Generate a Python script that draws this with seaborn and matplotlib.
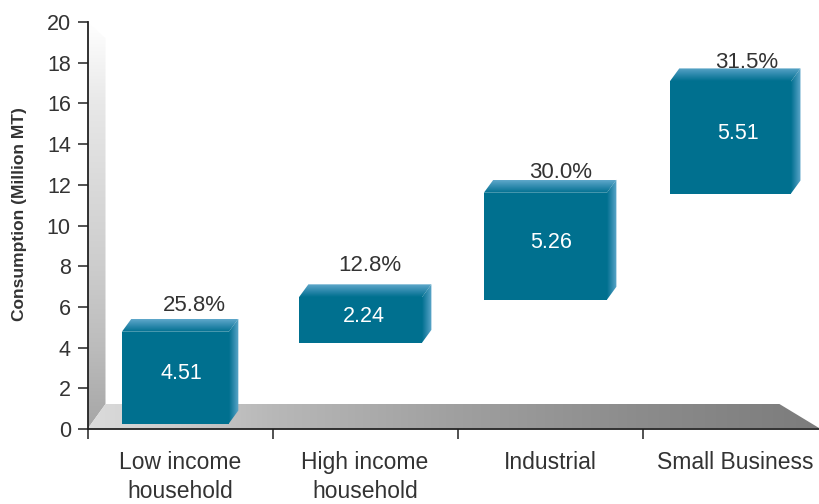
import numpy as np
import pandas as pd
import matplotlib
matplotlib.use("Agg")
import matplotlib.pyplot as plt
from matplotlib.colors import LinearSegmentedColormap
from matplotlib.patches import Polygon
import seaborn as sns

categories = ["Low income\nhousehold", "High income\nhousehold", "Industrial", "Small Business"]
volumes = [4.51, 2.24, 5.26, 5.51]
shares = ["25.8%", "12.8%", "30.0%", "31.5%"]
bar_starts = [0.27, 4.23, 6.35, 11.57]
y_ticks = list(range(0, 21, 2))

# Layout in data units: one category is 185 px wide, one y unit 20.35 px.
X_UNIT, Y_UNIT = 185.0, 20.35
X_MIN, X_MAX = -0.5, -0.5 + 731.5 / X_UNIT
BAR_SHIFT = -0.025
BAR_WIDTHS = [0.578, 0.665, 0.665, 0.655]
BAR_DX, BAR_DY = 9.5 / X_UNIT, 13 / Y_UNIT
WALL_DX, WALL_DY = 18 / X_UNIT, 25 / Y_UNIT
SHARE_LIFT = [0.65, 0.95, 0.35, 0.3]
SHARE_SHIFT = [0.10, 0.05, 0.08, 0.09]
VALUE_SHIFT = [0.035, 0.02, 0.03, 0.04]

FRONT = "#00708F"
LIGHT = "#5FA8CB"
TEXT = "#333333"

sns.set_theme(style="white")
plt.rcParams["font.family"] = ["Liberation Sans", "DejaVu Sans"]

fig = plt.figure(figsize=(8.19, 5.04), dpi=100, facecolor="white")
ax = fig.add_axes([87.5 / 819, 75 / 504, 731.5 / 819, 407 / 504])


def shaded_polygon(points, colours, horizontal, zorder):
    """Fill a polygon with a linear colour ramp along one axis."""
    pts = np.asarray(points)
    ramp = np.linspace(0, 1, 256)
    ramp = ramp[None, :] if horizontal else ramp[:, None]
    cmap = LinearSegmentedColormap.from_list("ramp", colours)
    extent = (pts[:, 0].min(), pts[:, 0].max(), pts[:, 1].min(), pts[:, 1].max())
    image = ax.imshow(ramp, extent=extent, origin="lower", cmap=cmap,
                      aspect="auto", zorder=zorder, interpolation="bilinear")
    clip = Polygon(pts, closed=True, transform=ax.transData)
    image.set_clip_path(clip)


data = pd.DataFrame({"category": categories, "volume": volumes})
sns.barplot(data=data, x="category", y="volume", ax=ax, color=FRONT, saturation=1,
            width=0.66, bottom=bar_starts, zorder=4)

# Back wall and floor of the 3D frame
shaded_polygon([(X_MIN, 0), (X_MIN + WALL_DX, WALL_DY), (X_MIN + WALL_DX, 19.2), (X_MIN, 20)],
               ["#a6a6a6", "#bcbcbc", "#cdcdcd", "#dadada", "#e8e8e8", "#ffffff"], False, 1)
shaded_polygon([(X_MIN, 0), (X_MIN + WALL_DX, WALL_DY), (3.24, WALL_DY), (X_MAX, 0.05)],
               ["#dcdcdc", "#b8b8b8", "#a0a0a0", "#8c8c8c", "#7c7c7c"], True, 2)

# Extruded top and side faces around each bar, plus the labels
for i, patch in enumerate(ax.patches):
    left = i + BAR_SHIFT - BAR_WIDTHS[i] / 2
    right = left + BAR_WIDTHS[i]
    bottom = bar_starts[i]
    top = bottom + volumes[i]
    patch.set_x(left)
    patch.set_width(BAR_WIDTHS[i])
    patch.set_linewidth(0)
    shaded_polygon([(left, top), (right, top), (right + BAR_DX, top + BAR_DY), (left + BAR_DX, top + BAR_DY)],
                   [FRONT, "#2F8AAE", LIGHT], False, 3)
    shaded_polygon([(right, bottom), (right + BAR_DX, bottom + BAR_DY),
                    (right + BAR_DX, top + BAR_DY), (right, top)],
                   [FRONT, "#2F8AAE", LIGHT], True, 3)
    ax.text(i + BAR_SHIFT + VALUE_SHIFT[i], bottom + volumes[i] / 2 + 0.2, f"{volumes[i]:.2f}", color="white",
            fontsize=15.5, ha="center", va="center", zorder=5)
    ax.text(i + BAR_SHIFT + SHARE_SHIFT[i], top + BAR_DY + SHARE_LIFT[i], shares[i], color=TEXT,
            fontsize=16, ha="center", va="center", zorder=5)

ax.set_xlim(X_MIN, X_MAX)
ax.set_ylim(0, 20)
ax.set_xlabel("")
ax.set_ylabel("Consumption (Million MT)", fontsize=12.5, fontweight="bold", color=TEXT)
ax.yaxis.set_label_coords(-60 / 731.5, 0.527)
ax.set_yticks(y_ticks)
ax.set_xticks(range(len(categories)))
ax.set_xticklabels(categories, fontsize=16.5, color=TEXT, linespacing=1.3)
ax.set_xticks([-0.5, 0.5, 1.5, 2.5], minor=True)
ax.tick_params(axis="x", which="major", length=0, pad=16)
ax.tick_params(axis="x", which="minor", length=7, width=1.1, color="#222222", bottom=True)
ax.tick_params(axis="y", length=7, width=1.1, color="#222222", labelsize=15.5, labelcolor=TEXT, pad=5, left=True)

for side in ("top", "right"):
    ax.spines[side].set_visible(False)
for side in ("left", "bottom"):
    ax.spines[side].set_color("#222222")
    ax.spines[side].set_linewidth(1.3)
ax.set_axisbelow(False)
ax.grid(False)

fig.savefig("out.png", dpi=100)
